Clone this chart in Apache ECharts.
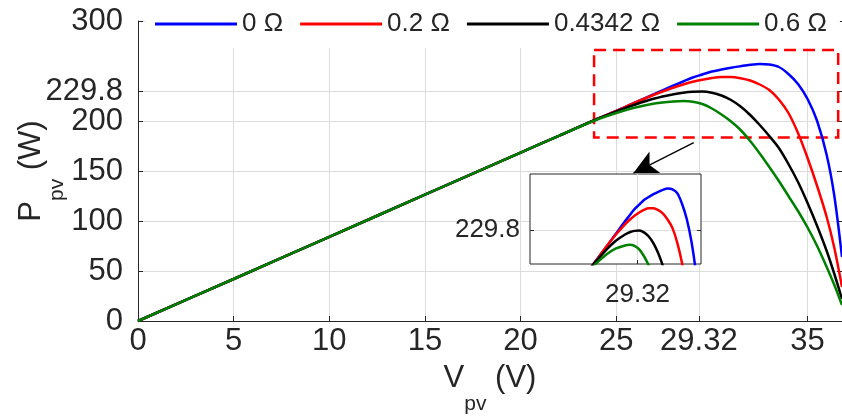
<!DOCTYPE html>
<html><head><meta charset="utf-8">
<script src="https://cdn.jsdelivr.net/npm/echarts@6/dist/echarts.min.js"></script>
<style>html,body{margin:0;padding:0;background:#fff}#c{width:842px;height:419px}</style>
</head><body><div id="c"></div>
<script>
const voltage = [0,5,10,15,20,22,24,25,26,27,28,28.5,29,29.5,30,30.5,31,31.5,32,32.5,33,33.5,34,34.5,35,35.5,36,36.4,36.8];
const power_R0 = [0,42,84.2,126.3,168.4,185.2,202,210,218.5,227,235.5,239.5,243.5,246.5,249.5,251.5,253.3,254.8,256.2,257,256.5,254,247,237,222,200,166,125,64];
const power_R02 = [0,42,84.2,126.3,168.4,185.2,202,210,218.5,226.5,233.5,236.5,239.2,241.3,243,244,244,242.8,240.5,236.5,231,221.5,208,188,163,135,104,73,34];
const power_R04342 = [0,42,84.2,126.3,168.4,185.2,202,209.5,216.5,222.5,226.8,228.3,229.2,229.4,228.2,225.5,221,214.5,206,196,185,173,157,139,118,95,70,47,22];
const power_R06 = [0,42,84.2,126.3,168.4,185.2,201.5,208,213.5,217.5,219.6,220,219.3,217,212.5,206.5,199.5,191,180,167.5,154,140,125,110,93.5,75,54,36,16];
const seriesNames = ['0 Ω','0.2 Ω','0.4342 Ω','0.6 Ω'];
const seriesColors = ['#0000ff','#ff0000','#000000','#008000'];
const xTicks = [0,5,10,15,20,25,29.32,35];
const yTicks = [0,50,100,150,200,229.8,300];
const insetXTicks = [29.32];
const insetYTicks = [229.8];
const zoomBox = [[23.84,271],[36.6,183.5]];
const arrowFrom = [29.05,178.3];
const arrowTo = [25.9,147.9];

const FONT = "'Liberation Sans', Arial, Helvetica, sans-serif";
const TXT = '#262626';
const GRIDC = '#dcdcdc';
const allPowers = [power_R0, power_R02, power_R04342, power_R06];

function mkSeries(i, xi, yi, z) {
  return {
    name: seriesNames[i], type: 'line', xAxisIndex: xi, yAxisIndex: yi,
    data: voltage.map((v, k) => [v, allPowers[i][k]]),
    symbol: 'none', smooth: 0.3, clip: true, silent: true, z: z,
    lineStyle: { color: seriesColors[i], width: 2.5 }, itemStyle: { color: seriesColors[i] }
  };
}

const richName = {
  a: { fontSize: 31, lineHeight: 34, verticalAlign: 'top', color: TXT, fontFamily: FONT },
  b: { fontSize: 21, lineHeight: 21, padding: [31, 0, 0, 0], verticalAlign: 'top', color: TXT, fontFamily: FONT }
};

const series = [];
for (let i = 0; i < 4; i++) series.push(mkSeries(i, 0, 0, 2));
for (let i = 0; i < 4; i++) series.push(mkSeries(i, 1, 2, 7));
series.push({
  type: 'line', xAxisIndex: 0, yAxisIndex: 0, data: [], z: 8, silent: true, clip: false,
  markArea: {
    silent: true,
    itemStyle: { color: 'rgba(0,0,0,0)', borderColor: '#ff0000', borderWidth: 2.5, borderType: [12, 7] },
    label: { show: false },
    data: [[{ coord: zoomBox[0] }, { coord: zoomBox[1] }]]
  },
  markLine: {
    silent: true, symbol: ['none', 'arrow'], symbolSize: [18, 24],
    lineStyle: { color: '#000', width: 1.3, type: 'solid' },
    label: { show: false },
    data: [[{ coord: arrowFrom }, { coord: arrowTo }]]
  }
});

const chart = echarts.init(document.getElementById('c'), null, { renderer: 'canvas' });
chart.setOption({
  animation: false,
  backgroundColor: '#fff',
  textStyle: { fontFamily: FONT },
  legend: {
    data: seriesNames, top: 0, left: 145, itemWidth: 82, itemHeight: 3, icon: 'rect', itemGap: 17,
    padding: [11, 13, 11, 10], backgroundColor: '#fff', selectedMode: false, z: 10,
    textStyle: { fontSize: 26, color: TXT, fontFamily: FONT }
  },
  grid: [
    { left: 138, right: 0, top: 21, bottom: 98, containLabel: false, outerBoundsMode: 'none' },
    { left: 530, top: 174, width: 171, height: 90, show: true, backgroundColor: '#fff', borderColor: TXT, borderWidth: 1, z: 5, containLabel: false, outerBoundsMode: 'none' }
  ],
  xAxis: [
    {
      type: 'value', gridIndex: 0, min: 0, max: 36.8,
      axisLine: { show: true, lineStyle: { color: TXT, width: 1 } },
      axisTick: { show: true, inside: true, length: 5, customValues: xTicks, lineStyle: { color: TXT } },
      axisLabel: { customValues: xTicks, fontSize: 31, color: TXT, fontFamily: FONT, margin: 5 },
      splitLine: { show: true, lineStyle: { color: GRIDC, width: 1 } },
      name: '{a|V}{b|pv}{a| (V)}', nameLocation: 'middle', nameGap: 42, nameMoveOverlap: false,
      nameTextStyle: { rich: richName }
    },
    {
      type: 'value', gridIndex: 1, min: 18, max: 36, z: 6,
      axisLine: { show: false },
      axisTick: { show: true, inside: true, length: 4, customValues: insetXTicks, lineStyle: { color: TXT } },
      axisLabel: { customValues: insetXTicks, fontSize: 26, color: TXT, fontFamily: FONT, margin: 18 },
      splitLine: { show: true, lineStyle: { color: GRIDC, width: 1 } }
    }
  ],
  yAxis: [
    {
      type: 'value', gridIndex: 0, min: 0, max: 300,
      axisLine: { show: true, lineStyle: { color: TXT, width: 1 } },
      axisTick: { show: true, inside: true, length: 5, customValues: yTicks, lineStyle: { color: TXT } },
      axisLabel: { customValues: yTicks, fontSize: 31, color: TXT, fontFamily: FONT, margin: 15 },
      splitLine: { show: true, lineStyle: { color: GRIDC, width: 1 } },
      name: '{a|P}{b|pv}{a| (W)}', nameLocation: 'middle', nameGap: 88, nameMoveOverlap: false,
      nameTextStyle: { rich: richName }
    },
    {
      type: 'value', gridIndex: 0, position: 'right', min: 0, max: 300,
      axisLine: { show: true, lineStyle: { color: TXT, width: 1 } },
      axisTick: { show: true, inside: true, length: 5, customValues: yTicks, lineStyle: { color: TXT } },
      axisLabel: { show: false },
      splitLine: { show: false }
    },
    {
      type: 'value', gridIndex: 1, min: 207.4, max: 266.6, z: 6,
      axisLine: { show: false },
      axisTick: { show: true, inside: true, length: 4, customValues: insetYTicks, lineStyle: { color: TXT } },
      axisLabel: { customValues: insetYTicks, fontSize: 26, color: TXT, fontFamily: FONT, margin: 10 },
      splitLine: { show: true, lineStyle: { color: GRIDC, width: 1 } }
    },
    {
      type: 'value', gridIndex: 1, position: 'right', min: 207.4, max: 266.6, z: 6,
      axisLine: { show: false },
      axisTick: { show: true, inside: true, length: 4, customValues: insetYTicks, lineStyle: { color: TXT } },
      axisLabel: { show: false },
      splitLine: { show: false }
    }
  ],
  series: series
});
</script>
</body></html>
